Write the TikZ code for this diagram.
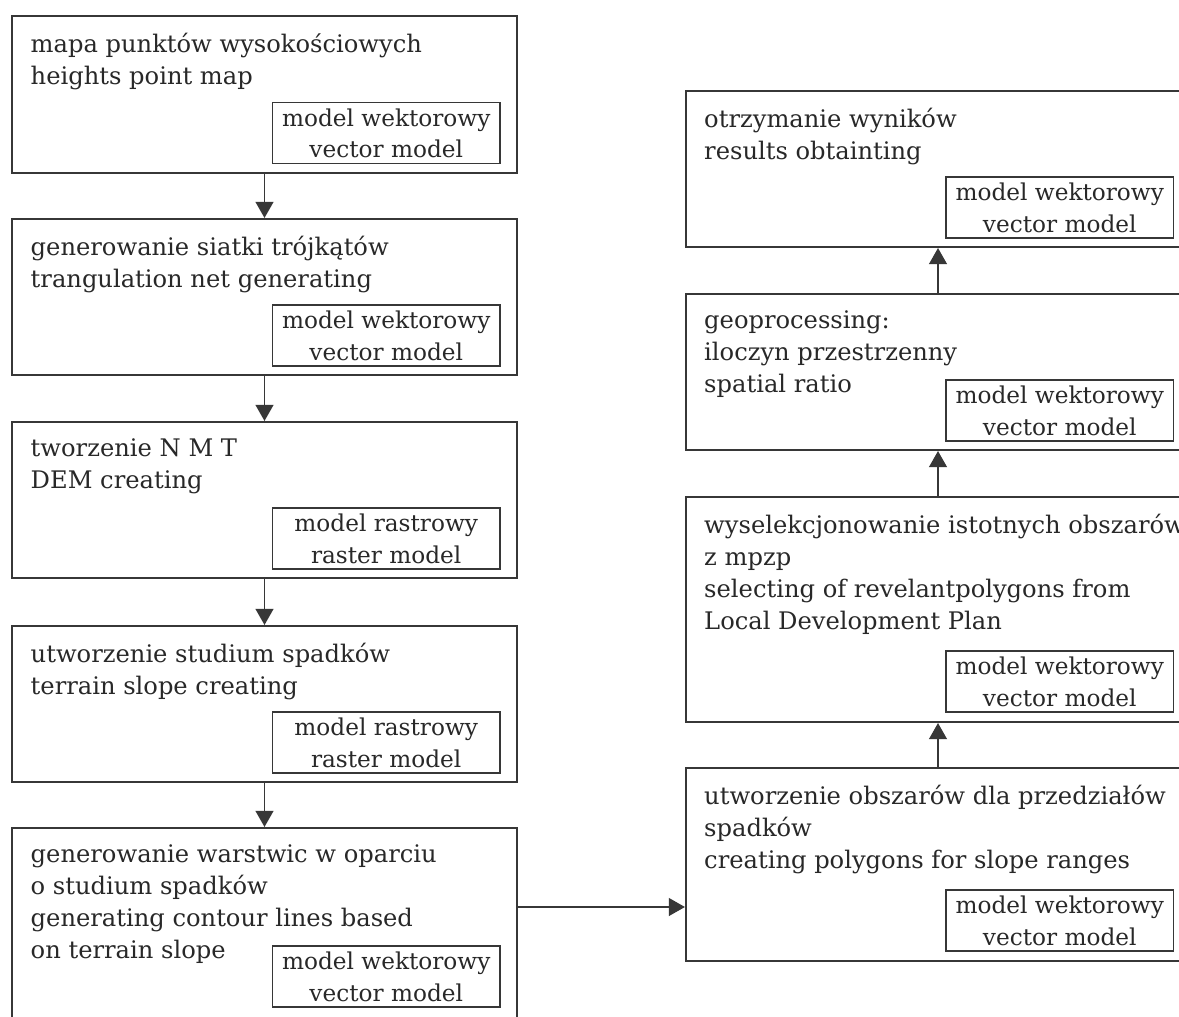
\documentclass[tikz,border=0pt]{standalone}
\usepackage{fontspec}
\setmainfont{DejaVu Serif}
\definecolor{flowline}{RGB}{55,55,55}
\definecolor{flowtext}{RGB}{40,40,40}
\usetikzlibrary{arrows.meta,positioning}

\begin{document}
\begin{tikzpicture}[x=0.025cm, y=-0.025cm,
    stagebox/.style={rectangle, draw=flowline, line width=1.4pt, minimum width=12.6cm,
      minimum height=3.9cm, inner sep=0pt},
    stagetext/.style={anchor=north west, align=left, inner sep=0pt, text=flowtext,
      font=\fontsize{17.2pt}{22.8pt}\selectfont},
    modelbox/.style={rectangle, draw=flowline, line width=1.1pt, minimum width=5.675cm,
      minimum height=1.525cm, inner sep=1pt, align=center, text=flowtext,
      font=\fontsize{16.5pt}{22.3pt}\selectfont},
    flowarrow/.style={-{Triangle[length=0.4cm, width=0.44cm]}, line width=1.4pt, draw=flowline, fill=flowline}
  ]
    \fill[white] (0,0) rectangle (1179,1017);
    \useasboundingbox (0,0) rectangle (1179,1017);

    % left column
    \node[stagebox] (b1) at (264.5,94.5) {};
    \node[stagebox] (b2) at (264.5,297) {};
    \node[stagebox] (b3) at (264.5,500) {};
    \node[stagebox] (b4) at (264.5,704) {};
    \node[stagebox, minimum height=4.85cm] (b5) at (264.5,925) {};

    \node[stagetext, below right=0.44cm and 0.475cm of b1.north west] (t1) {mapa punktów wysokościowych\\heights point map};
    \node[stagetext, below right=0.44cm and 0.475cm of b2.north west] (t2) {generowanie siatki trójkątów\\trangulation net generating};
    \node[stagetext, below right=0.44cm and 0.475cm of b3.north west] (t3) {tworzenie N M T\\DEM creating};
    \node[stagetext, below right=0.44cm and 0.475cm of b4.north west] (t4) {utworzenie studium spadków\\terrain slope creating};
    \node[stagetext, below right=0.44cm and 0.475cm of b5.north west] (t5) {generowanie warstwic w oparciu\\o studium spadków\\generating contour lines based\\on terrain slope};

    \node[modelbox, above left=0.225cm and 0.425cm of b1.south east, anchor=south east] (m1) {model wektorowy\\vector model};
    \node[modelbox, above left=0.225cm and 0.425cm of b2.south east, anchor=south east] (m2) {model wektorowy\\vector model};
    \node[modelbox, above left=0.225cm and 0.425cm of b3.south east, anchor=south east] (m3) {model rastrowy\\raster model};
    \node[modelbox, above left=0.225cm and 0.425cm of b4.south east, anchor=south east] (m4) {model rastrowy\\raster model};
    \node[modelbox, above left=0.375cm and 0.425cm of b5.south east, anchor=south east] (m5) {model wektorowy\\vector model};

    % right column
    \node[stagebox] (r1) at (938,169) {};
    \node[stagebox] (r2) at (938,372) {};
    \node[stagebox, minimum height=5.625cm] (r3) at (938,609.5) {};
    \node[stagebox, minimum height=4.825cm] (r4) at (938,864.5) {};

    \node[stagetext, below right=0.44cm and 0.475cm of r1.north west] (s1) {otrzymanie wyników\\results obtainting};
    \node[stagetext, below right=0.44cm and 0.475cm of r2.north west] (s2) {geoprocessing:\\iloczyn przestrzenny\\spatial ratio};
    \node[stagetext, below right=0.44cm and 0.475cm of r3.north west] (s3) {wyselekcjonowanie istotnych obszarów\\z mpzp\\selecting of revelantpolygons from\\Local Development Plan};
    \node[stagetext, below right=0.44cm and 0.475cm of r4.north west] (s4) {utworzenie obszarów dla przedziałów\\spadków\\creating polygons for slope ranges};

    \node[modelbox, above left=0.225cm and 0.425cm of r1.south east, anchor=south east] (n1) {model wektorowy\\vector model};
    \node[modelbox, above left=0.225cm and 0.425cm of r2.south east, anchor=south east] (n2) {model wektorowy\\vector model};
    \node[modelbox, above left=0.25cm and 0.425cm of r3.south east, anchor=south east] (n3) {model wektorowy\\vector model};
    \node[modelbox, above left=0.25cm and 0.425cm of r4.south east, anchor=south east] (n4) {model wektorowy\\vector model};

    % connectors
    \draw[flowarrow] (b1.south) -- (b2.north);
    \draw[flowarrow] (b2.south) -- (b3.north);
    \draw[flowarrow] (b3.south) -- (b4.north);
    \draw[flowarrow] (b4.south) -- (b5.north);
    \coordinate (hlevel) at (600,907);
    \draw[flowarrow] (b5.east |- hlevel) -- (r4.west |- hlevel);
    \draw[flowarrow] (r4.north) -- (r3.south);
    \draw[flowarrow] (r3.north) -- (r2.south);
    \draw[flowarrow] (r2.north) -- (r1.south);
  \end{tikzpicture}
\end{document}
